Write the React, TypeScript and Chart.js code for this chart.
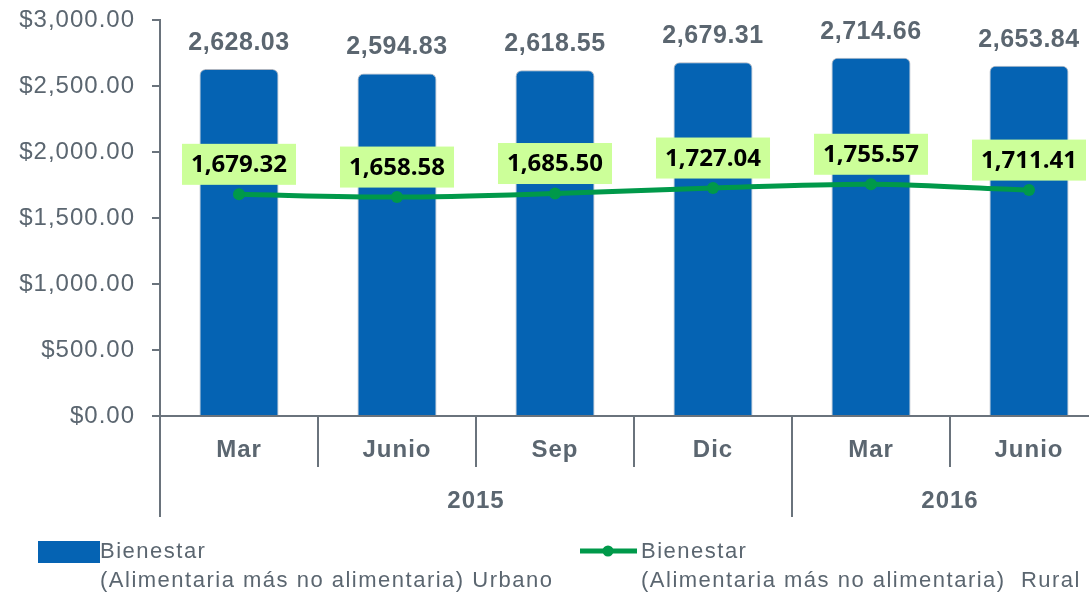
import React, { useEffect, useRef } from 'react';
import { Chart, registerables } from 'chart.js';
Chart.register(...registerables);

const categories = ['Mar', 'Junio', 'Sep', 'Dic', 'Mar', 'Junio'];
const years = ['2015', '2016'];
const yearSpans = [4, 2];
const urbano = [2628.03, 2594.83, 2618.55, 2679.31, 2714.66, 2653.84];
const rural = [1679.32, 1658.58, 1685.5, 1727.04, 1755.57, 1711.41];
const yTicks = [0, 500, 1000, 1500, 2000, 2500, 3000];
const legendUrbano = ['Bienestar', '(Alimentaria más no alimentaria) Urbano'];
const legendRural = ['Bienestar', '(Alimentaria más no alimentaria)  Rural'];

const GRAY = '#5b6670';
const AXIS = '#6a737c';
const BLUE = '#0563B3';
const GREEN = '#00994A';
const LABEL_BG = '#CCFF99';
const SANS = '"Liberation Sans", Arial, Helvetica, sans-serif';

const fmt = (v: number) =>
  v.toLocaleString('en-US', { minimumFractionDigits: 2, maximumFractionDigits: 2 });

export default function App() {
  const ref = useRef<HTMLCanvasElement>(null);
  useEffect(() => {
    document.body.style.margin = '0';
    const canvas = ref.current!;
    const plugin = {
      id: 'custom',
      beforeDraw(chart: any) {
        (chart.ctx as any).letterSpacing = '1px';
      },
      afterDatasetsDraw(chart: any) {
        const ctx = chart.ctx;
        const lineMeta = chart.getDatasetMeta(0);
        const barMeta = chart.getDatasetMeta(1);
        ctx.save();
        ctx.textAlign = 'center';
        ctx.textBaseline = 'middle';
        ctx.font = `bold 25px ${SANS}`;
        ctx.letterSpacing = '0.5px';
        ctx.fillStyle = GRAY;
        barMeta.data.forEach((el: any, i: number) => {
          ctx.fillText(fmt(urbano[i]), el.x, el.y - 26);
        });
        ctx.font = 'bold 24px "Open Sans", sans-serif';
        ctx.letterSpacing = '0px';
        lineMeta.data.forEach((el: any, i: number) => {
          const t = fmt(rural[i]);
          const w = ctx.measureText(t).width + 18;
          const h = 41;
          const cy = el.y - 30;
          ctx.fillStyle = LABEL_BG;
          ctx.fillRect(el.x - w / 2, cy - h / 2, w, h);
          ctx.fillStyle = '#000';
          ctx.fillText(t, el.x, cy + 1);
        });
        ctx.restore();
      },
      afterDraw(chart: any) {
        const { ctx, chartArea } = chart;
        const xs = chart.scales.x;
        const bottom = chartArea.bottom;
        const step = xs.getPixelForValue(1) - xs.getPixelForValue(0);
        ctx.save();
        ctx.strokeStyle = AXIS;
        ctx.lineWidth = 2;
        ctx.beginPath();
        ctx.moveTo(chartArea.left - 8, bottom);
        ctx.lineTo(chart.width, bottom);
        ctx.moveTo(chartArea.left, bottom);
        ctx.lineTo(chartArea.left, bottom + 101);
        const yearEnds = new Set<number>();
        let cum = 0;
        yearSpans.forEach((s) => {
          cum += s;
          yearEnds.add(cum);
        });
        for (let i = 1; i <= categories.length; i++) {
          const x = xs.getPixelForValue(i - 1) + step / 2;
          ctx.moveTo(x, bottom);
          ctx.lineTo(x, bottom + (yearEnds.has(i) ? 101 : 51));
        }
        ctx.stroke();

        ctx.fillStyle = GRAY;
        ctx.font = `bold 24px ${SANS}`;
        ctx.letterSpacing = '1px';
        ctx.textAlign = 'center';
        ctx.textBaseline = 'middle';
        categories.forEach((c, i) => ctx.fillText(c, xs.getPixelForValue(i), bottom + 34));
        let start = 0;
        years.forEach((y, k) => {
          const end = start + yearSpans[k];
          const x0 = xs.getPixelForValue(start) - step / 2;
          const x1 = xs.getPixelForValue(end - 1) + step / 2;
          ctx.fillText(y, (x0 + x1) / 2, bottom + 85);
          start = end;
        });

        // legend
        ctx.font = `22px ${SANS}`;
        ctx.letterSpacing = '1.5px';
        ctx.textAlign = 'left';
        ctx.fillStyle = BLUE;
        ctx.fillRect(38, 541, 62, 22);
        ctx.fillStyle = GRAY;
        ctx.fillText(legendUrbano[0], 100, 552);
        ctx.fillText(legendUrbano[1], 100, 581);
        ctx.strokeStyle = GREEN;
        ctx.lineWidth = 5;
        ctx.beginPath();
        ctx.moveTo(580, 551);
        ctx.lineTo(637, 551);
        ctx.stroke();
        ctx.fillStyle = GREEN;
        ctx.beginPath();
        ctx.arc(608, 551, 5.5, 0, Math.PI * 2);
        ctx.fill();
        ctx.fillStyle = GRAY;
        ctx.fillText(legendRural[0], 641, 552);
        ctx.fillText(legendRural[1], 641, 581);
        ctx.restore();
      },
    };

    const chart = new Chart(canvas, {
      type: 'bar',
      data: {
        labels: categories,
        datasets: [
          {
            type: 'line',
            label: 'Rural',
            data: rural,
            borderColor: GREEN,
            backgroundColor: GREEN,
            borderWidth: 5,
            pointRadius: 6,
            pointBackgroundColor: GREEN,
            pointBorderWidth: 0,
            tension: 0.3,
            order: 1,
          } as any,
          {
            type: 'bar',
            label: 'Urbano',
            data: urbano,
            backgroundColor: BLUE,
            borderColor: 'rgba(140,150,165,0.7)',
            borderWidth: 1,
            borderSkipped: 'bottom',
            borderRadius: { topLeft: 6, topRight: 6, bottomLeft: 0, bottomRight: 0 },
            barPercentage: 0.5,
            categoryPercentage: 1.0,
            order: 2,
          } as any,
        ],
      },
      options: {
        responsive: false,
        devicePixelRatio: 1,
        animation: false,
        layout: { padding: { top: 20, right: 12, left: 0, bottom: 0 } },
        plugins: { legend: { display: false }, tooltip: { enabled: false } },
        scales: {
          x: {
            type: 'category',
            offset: true,
            grid: { display: false },
            border: { display: false },
            ticks: { display: false },
            afterFit: (s: any) => {
              s.height = 177;
            },
          },
          y: {
            min: 0,
            max: 3000,
            afterBuildTicks: (s: any) => {
              s.ticks = yTicks.map((v) => ({ value: v }));
            },
            ticks: {
              padding: 17,
              color: GRAY,
              font: { family: SANS, size: 24 },
              callback: (v: any) => '$' + fmt(Number(v)),
            },
            grid: {
              drawOnChartArea: false,
              drawTicks: true,
              tickLength: 8,
              color: AXIS,
              lineWidth: 2,
            },
            border: { display: true, color: AXIS, width: 2 },
            afterFit: (s: any) => {
              s.width = 160;
              s.paddingTop = 0;
              s.paddingBottom = 0;
            },
          },
        },
      },
      plugins: [plugin],
    });
    return () => chart.destroy();
  }, []);

  return (
    <div style={{ position: 'absolute', left: 0, top: 0, width: 1089, height: 593, overflow: 'hidden', background: '#fff' }}>
      <canvas ref={ref} width={1120} height={593} style={{ display: 'block' }} />
    </div>
  );
}
